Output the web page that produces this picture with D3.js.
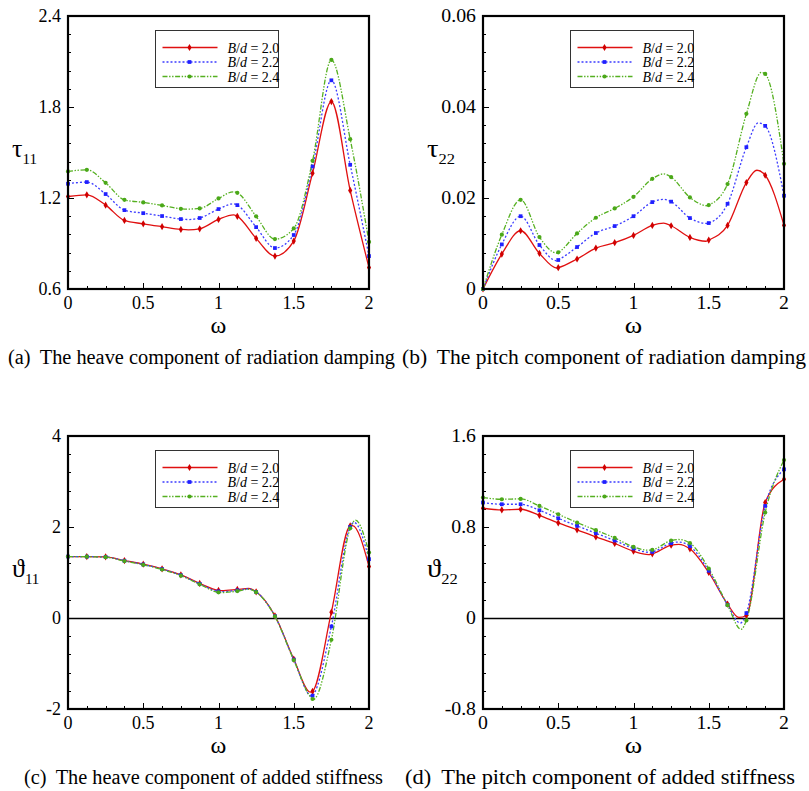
<!DOCTYPE html>
<html><head><meta charset="utf-8">
<script src="https://cdn.jsdelivr.net/npm/d3@7"></script>
<style>body{margin:0;background:#fff}svg{display:block}text{font-family:"Liberation Serif","Times New Roman",serif}</style>
</head><body>
<script>
// ---------- data ----------
const omega = [0,0.125,0.25,0.375,0.5,0.625,0.75,0.875,1,1.125,1.25,1.375,1.5,1.625,1.75,1.875,2];
const seriesLabels = ["2.0","2.2","2.4"];

// (a) tau11
const tau11_20 = [1.210,1.221,1.153,1.052,1.030,1.011,0.993,0.997,1.059,1.079,0.934,0.817,0.916,1.364,1.836,1.250,0.741];
const tau11_22 = [1.294,1.305,1.226,1.120,1.100,1.081,1.061,1.068,1.127,1.153,1.008,0.870,0.956,1.408,1.976,1.419,0.817];
const tau11_24 = [1.375,1.386,1.300,1.188,1.171,1.151,1.129,1.131,1.197,1.234,1.079,0.929,0.999,1.445,2.110,1.588,0.910];
const tau11_20_ext = [[0.8,0.990],[1.1,1.089]];
const tau11_22_ext = [[0.8,1.058],[1.1,1.162]];
const tau11_24_ext = [[0.8,1.127],[1.1,1.241]];

// (b) tau22
const tau22_20 = [0,0.00768,0.0128,0.00783,0.00468,0.00659,0.0090,0.01017,0.01178,0.01398,0.0139,0.01134,0.01076,0.01398,0.0234,0.0250,0.0140];
const tau22_22 = [0,0.0098,0.0160,0.00966,0.00637,0.00922,0.0123,0.01383,0.0160,0.0191,0.0192,0.01559,0.01449,0.01873,0.03117,0.03585,0.0205];
const tau22_24 = [0,0.01193,0.0196,0.01141,0.00805,0.01222,0.01566,0.01771,0.02027,0.02422,0.02459,0.02012,0.01844,0.02305,0.03849,0.04727,0.02751];
const tau22_20_ext = [[0.49,0.0046],[1.2,0.0145],[1.48,0.0105],[1.82,0.0261]];
const tau22_22_ext = [[0.49,0.0062],[1.2,0.0197],[1.49,0.0144],[1.83,0.0365]];
const tau22_24_ext = [[0.49,0.0079],[1.2,0.0253],[1.49,0.0183],[1.85,0.0476]];

// (c) theta11
const th11_20 = [1.351,1.351,1.344,1.263,1.183,1.081,0.949,0.759,0.605,0.627,0.576,0.049,-0.902,-1.612,0.129,2.024,1.132];
const th11_22 = [1.351,1.349,1.340,1.258,1.177,1.074,0.940,0.750,0.585,0.608,0.572,0.040,-0.912,-1.707,-0.185,2.000,1.293];
const th11_24 = [1.350,1.347,1.336,1.252,1.170,1.066,0.930,0.740,0.565,0.592,0.568,0.035,-0.925,-1.780,-0.478,1.970,1.439];
const th11_20_ext = [[1.02,0.600],[1.2,0.650],[1.61,-1.630],[1.89,2.030]];
const th11_22_ext = [[1.02,0.580],[1.2,0.640],[1.62,-1.720],[1.90,2.100]];
const th11_24_ext = [[1.03,0.560],[1.2,0.630],[1.63,-1.790],[1.91,2.150]];

// (d) theta22
const th22_20 = [0.965,0.950,0.956,0.903,0.836,0.775,0.713,0.655,0.587,0.564,0.640,0.608,0.400,0.122,0.022,1.015,1.220];
const th22_22 = [1.015,1.000,1.000,0.947,0.877,0.810,0.745,0.681,0.611,0.581,0.658,0.631,0.415,0.116,0.043,0.985,1.307];
const th22_24 = [1.059,1.044,1.047,0.985,0.912,0.839,0.772,0.704,0.625,0.599,0.681,0.658,0.435,0.113,-0.021,0.927,1.389];
const th22_20_ext = [[1.1,0.558],[1.3,0.648],[1.70,0.005]];
const th22_22_ext = [[1.1,0.578],[1.3,0.668],[1.71,-0.045]];
const th22_24_ext = [[1.1,0.596],[1.3,0.690],[1.715,-0.100]];

const xTicks = [0,0.5,1,1.5,2];
const xTickLabels = ["0","0.5","1","1.5","2"];

const panels = [
  {id:"a", col:0, row:0, yDomain:[0.6,2.4], yTicks:[0.6,1.2,1.8,2.4], yTickLabels:["0.6","1.2","1.8","2.4"], yMinorStep:0.12,
   sym:"τ", sub:"11", zero:false, caption:"(a)", captionText:"The heave component of radiation damping",
   series:[[tau11_20,tau11_20_ext],[tau11_22,tau11_22_ext],[tau11_24,tau11_24_ext]]},
  {id:"b", col:1, row:0, yDomain:[0,0.06], yTicks:[0,0.02,0.04,0.06], yTickLabels:["0","0.02","0.04","0.06"], yMinorStep:0.004,
   sym:"τ", sub:"22", zero:false, caption:"(b)", captionText:"The pitch component of radiation damping",
   series:[[tau22_20,tau22_20_ext],[tau22_22,tau22_22_ext],[tau22_24,tau22_24_ext]]},
  {id:"c", col:0, row:1, yDomain:[-2,4], yTicks:[-2,0,2,4], yTickLabels:["-2","0","2","4"], yMinorStep:0.4,
   sym:"ϑ", sub:"11", zero:true, caption:"(c)", captionText:"The heave component of added stiffness",
   series:[[th11_20,th11_20_ext],[th11_22,th11_22_ext],[th11_24,th11_24_ext]]},
  {id:"d", col:1, row:1, yDomain:[-0.8,1.6], yTicks:[-0.8,0,0.8,1.6], yTickLabels:["-0.8","0","0.8","1.6"], yMinorStep:0.16,
   sym:"ϑ", sub:"22", zero:true, caption:"(d)", captionText:"The pitch component of added stiffness",
   series:[[th22_20,th22_20_ext],[th22_22,th22_22_ext],[th22_24,th22_24_ext]]}
];

// ---------- style ----------
const colors = ["#e01010","#3d3dff","#55b020"];
const markerColors = ["#d00000","#2020ff","#4aa818"];
const dashes = [null,"2,2","5,1.6,1.4,1.6,1.4,1.6"];
const symbols = [d3.symbolDiamond, d3.symbolSquare, d3.symbolCircle];
const symSizes = [15,14,14];
const captionX = {a:8,b:402,c:24,d:405};
const captionW = {a:387,b:404,c:359,d:390};

const W=809,H=791;
const svg = d3.select("body").append("svg").attr("width",W).attr("height",H)
  .attr("font-family","Liberation Serif, Times New Roman, serif");

const PW=301, PH=273;
const lefts=[68,483], tops=[16,436];

panels.forEach(p=>{
  const L=lefts[p.col], T=tops[p.row];
  const g = svg.append("g").attr("transform",`translate(${L},${T})`);
  const x = d3.scaleLinear().domain([0,2]).range([0,PW]);
  const y = d3.scaleLinear().domain(p.yDomain).range([PH,0]);
  const stretch = p.col===1 ? 1.1 : 1;

  const clipId="clip"+p.id;
  g.append("clipPath").attr("id",clipId).append("rect").attr("width",PW).attr("height",PH);

  if(p.zero){
    const yz=Math.round(y(0))+0.5;
    g.append("line").attr("x1",0).attr("x2",PW).attr("y1",yz).attr("y2",yz)
      .attr("stroke","#000").attr("stroke-width",1.3);
  }

  // minor ticks (inward)
  const xMinor = d3.range(0,2.0001,0.125);
  g.selectAll(".xm").data(xMinor).join("line")
    .attr("x1",d=>Math.round(x(d))+0.5).attr("x2",d=>Math.round(x(d))+0.5).attr("y1",PH).attr("y2",d=>PH-(xTicks.some(t=>Math.abs(t-d)<1e-9)?6:3))
    .attr("stroke","#000").attr("stroke-width",1);
  const [y0,y1]=p.yDomain;
  const n=Math.round((y1-y0)/p.yMinorStep);
  const yMinor=d3.range(n+1).map(i=>y0+i*p.yMinorStep);
  g.selectAll(".ym").data(yMinor).join("line")
    .attr("y1",d=>Math.round(y(d))+0.5).attr("y2",d=>Math.round(y(d))+0.5).attr("x1",0).attr("x2",d=>(p.yTicks.some(t=>Math.abs(t-d)<1e-9)?6:3))
    .attr("stroke","#000").attr("stroke-width",1);

  // tick labels
  g.selectAll(".xl").data(xTicks).join("text")
    .attr("transform",d=>`translate(${x(d)},${PH+20}) scale(${stretch},1)`).attr("text-anchor","middle").attr("font-size",18)
    .text((d,i)=>xTickLabels[i]);
  g.selectAll(".yl").data(p.yTicks).join("text")
    .attr("transform",d=>`translate(-7,${y(d)+6}) scale(${stretch},1)`).attr("text-anchor","end").attr("font-size",18)
    .text((d,i)=>p.yTickLabels[i]);

  // series
  const line = d3.line().x(d=>x(d[0])).y(d=>y(d[1])).curve(d3.curveMonotoneX);
  const plot = g.append("g").attr("clip-path",`url(#${clipId})`);
  p.series.forEach((s,i)=>{
    const pts = omega.map((w,k)=>[w,s[0][k]]).concat(s[1]).sort((a,b)=>a[0]-b[0]);
    plot.append("path").attr("d",line(pts)).attr("fill","none")
      .attr("stroke",colors[i]).attr("stroke-width",1.3)
      .attr("stroke-dasharray",dashes[i]);
  });
  p.series.forEach((s,i)=>{
    g.selectAll(null).data(omega.map((w,k)=>[w,s[0][k]])).join("path")
      .attr("transform",d=>`translate(${x(d[0])},${y(d[1])})`)
      .attr("d",d3.symbol().type(symbols[i]).size(symSizes[i]))
      .attr("fill",markerColors[i]);
  });

  // frame
  g.append("rect").attr("width",PW).attr("height",PH).attr("fill","none")
    .attr("stroke","#000").attr("stroke-width",2.2);

  // legend
  const lg = g.append("g").attr("transform","translate(87.5,14.5)");
  lg.append("rect").attr("width",123).attr("height",57).attr("fill","#fff")
    .attr("stroke","#333").attr("stroke-width",1);
  seriesLabels.forEach((lab,i)=>{
    const yy = 17+i*14.5;
    lg.append("line").attr("x1",7).attr("x2",62).attr("y1",yy).attr("y2",yy)
      .attr("stroke",colors[i]).attr("stroke-width",1.3).attr("stroke-dasharray",dashes[i]);
    lg.append("path").attr("transform",`translate(34,${yy})`)
      .attr("d",d3.symbol().type(symbols[i]).size(symSizes[i])).attr("fill",markerColors[i]);
    const t = lg.append("text").attr("x",72).attr("y",yy+5).attr("font-size",14);
    t.append("tspan").attr("font-style","italic").text("B");
    t.append("tspan").text("/");
    t.append("tspan").attr("font-style","italic").text("d");
    t.append("tspan").text(" = "+lab);
  });

  // axis titles
  g.append("text").attr("transform",`translate(${PW/2},${PH+44}) scale(${stretch},1)`).attr("text-anchor","middle")
    .attr("font-size",24).text("ω");
  const yt = g.append("text").attr("transform",`translate(-56,${PH/2+4}) scale(${stretch},1)`).attr("font-size",26);
  yt.append("tspan").text(p.sym);
  yt.append("tspan").attr("font-size",15).attr("dy",7).text(p.sub);

  // caption
  const c = svg.append("text").attr("x",captionX[p.id]).attr("y",T+PH+75).attr("font-size",20)
    .attr("textLength",captionW[p.id]).attr("lengthAdjust","spacingAndGlyphs");
  c.append("tspan").text(p.caption);
  c.append("tspan").attr("dx",9).text(p.captionText);
});
</script>
</body></html>
